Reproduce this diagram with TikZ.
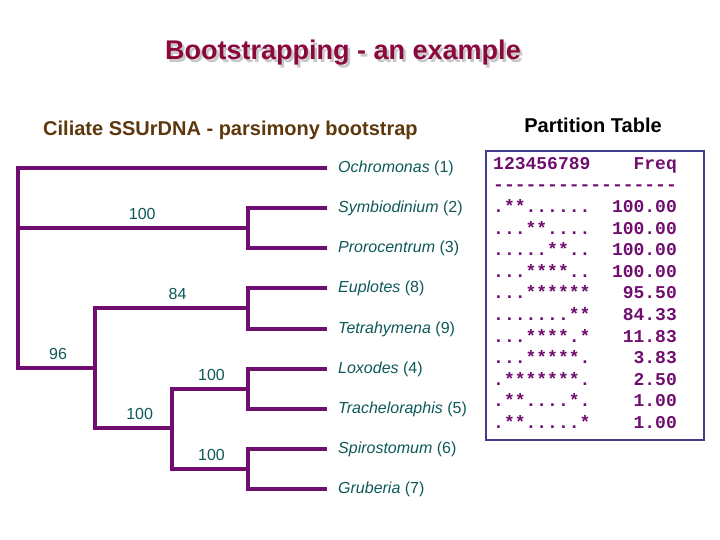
\documentclass[tikz,border=0pt]{standalone}
\usepackage{fontspec}
\setmainfont{Liberation Sans}
\setmonofont{Liberation Mono}
\usetikzlibrary{positioning}
\definecolor{treepurple}{RGB}{112,14,112}
\definecolor{labteal}{RGB}{14,88,88}
\definecolor{titlered}{RGB}{139,8,60}
\definecolor{subbrown}{RGB}{92,56,12}
\definecolor{boxnavy}{RGB}{66,60,140}
\tikzset{
  branch/.style={draw=treepurple,line width=4.3pt},
  tip-lab/.style={inner sep=0pt,text=labteal,font=\fontsize{16}{19}\selectfont},
  supp/.style={inner sep=0pt,text=labteal,font=\fontsize{16}{19}\selectfont},
  head/.style={inner sep=0pt,font=\fontsize{20}{24}\selectfont\bfseries},
  tab-box/.style={draw=boxnavy,line width=1.6pt,minimum width=218pt,minimum height=289pt,inner sep=0pt},
  tab-text/.style={inner sep=0pt,align=left,text=treepurple,font=\fontsize{18}{21.6}\selectfont\ttfamily\bfseries},
}

\begin{document}
\begin{tikzpicture}[x=1pt,y=-1pt]
  \useasboundingbox (0,0) rectangle (720,540);

  % titles
  \node[head,text=black!22,font=\fontsize{27}{32}\selectfont\bfseries] (title-sh) at (345.5,55.5) {Bootstrapping - an example};
  \node[head,text=titlered,font=\fontsize{27}{32}\selectfont\bfseries] (title) at (343,53) {Bootstrapping - an example};
  \node[head,text=subbrown,anchor=west] (sub) at (43,130) {Ciliate SSUrDNA - parsimony bootstrap};
  \node[head] (ptitle) at (593,125) {Partition Table};

  % tips
  \coordinate (t1) at (327,168);
  \coordinate (t2) at (327,208);
  \coordinate (t3) at (327,248);
  \coordinate (t8) at (327,288);
  \coordinate (t9) at (327,329);
  \coordinate (t4) at (327,369);
  \coordinate (t5) at (327,409);
  \coordinate (t6) at (327,449);
  \coordinate (t7) at (327,489);
  \node[tip-lab,right=11pt of t1] (l1) {\textit{Ochromonas} (1)};
  \node[tip-lab,right=11pt of t2] (l2) {\textit{Symbiodinium} (2)};
  \node[tip-lab,right=11pt of t3] (l3) {\textit{Prorocentrum} (3)};
  \node[tip-lab,right=11pt of t8] (l8) {\textit{Euplotes} (8)};
  \node[tip-lab,right=11pt of t9] (l9) {\textit{Tetrahymena} (9)};
  \node[tip-lab,right=11pt of t4] (l4) {\textit{Loxodes} (4)};
  \node[tip-lab,right=11pt of t5] (l5) {\textit{Tracheloraphis} (5)};
  \node[tip-lab,right=11pt of t6] (l6) {\textit{Spirostomum} (6)};
  \node[tip-lab,right=11pt of t7] (l7) {\textit{Gruberia} (7)};

  % inner nodes
  \coordinate (root)  at (18,268);
  \coordinate (c23)   at (248,228);
  \coordinate (c96)   at (95,368);
  \coordinate (c89)   at (248,308);
  \coordinate (c4567) at (172,428);
  \coordinate (c45)   at (248,389);
  \coordinate (c67)   at (248,469);

  % branches
  \draw[branch] (root)  |- (t1);
  \draw[branch] (root)  |- node[supp,pos=.77,above=6pt] (s23) {100} (c23);
  \draw[branch] (root)  |- node[supp,pos=.76,above=6pt] (s96) {96} (c96);
  \draw[branch] (c23)   |- (t2);
  \draw[branch] (c23)   |- (t3);
  \draw[branch] (c96)   |- node[supp,pos=.77,above=6pt] (s89) {84} (c89);
  \draw[branch] (c96)   |- node[supp,pos=.79,above=6pt] (s4567) {100} (c4567);
  \draw[branch] (c89)   |- (t8);
  \draw[branch] (c89)   |- (t9);
  \draw[branch] (c4567) |- node[supp,pos=.76,above=6pt] (s45) {100} (c45);
  \draw[branch] (c4567) |- node[supp,pos=.76,above=6pt] (s67) {100} (c67);
  \draw[branch] (c45)   |- (t4);
  \draw[branch] (c45)   |- (t5);
  \draw[branch] (c67)   |- (t6);
  \draw[branch] (c67)   |- (t7);

  % partition table
  \node[tab-box,anchor=north west] (tbox) at (485,150) {};
  \node[tab-text,anchor=north west] (tab) at (493,157) {%
    123456789~~~~Freq\\
    -----------------\\
    .**......~~100.00\\
    ...**....~~100.00\\
    .....**..~~100.00\\
    ...****..~~100.00\\
    ...******~~~95.50\\
    .......**~~~84.33\\
    ...****.*~~~11.83\\
    ...*****.~~~~3.83\\
    .*******.~~~~2.50\\
    .**....*.~~~~1.00\\
    .**.....*~~~~1.00};

\end{tikzpicture}
\end{document}
